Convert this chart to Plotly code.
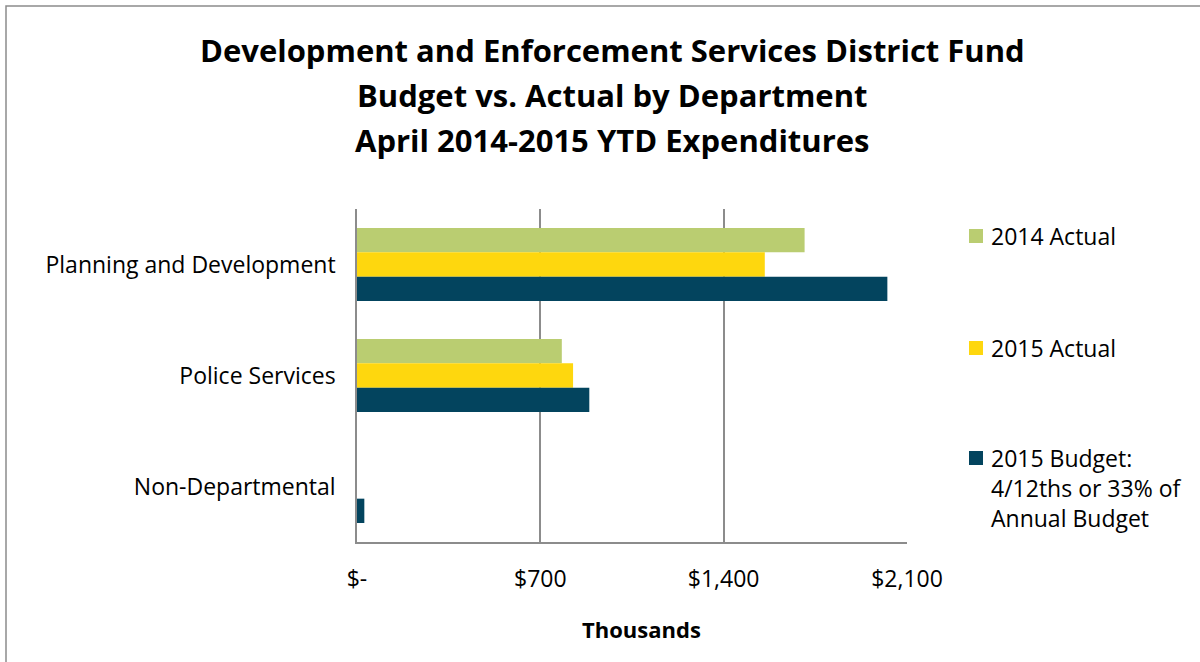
import plotly.graph_objects as go

# Departments, top to bottom
departments = ["Planning and Development", "Police Services", "Non-Departmental"]

# YTD expenditures, in thousands of dollars
actual_2014 = [1709, 782, 0]
actual_2015 = [1557, 825, 0]
budget_2015 = [2025, 887, 28]

series_names = ["2014 Actual", "2015 Actual",
                "2015 Budget:<br>4/12ths or 33% of<br>Annual Budget"]
series_colors = ["#BACD71", "#FED70E", "#03445E"]

tick_values = [0, 700, 1400, 2100]
tick_labels = ["$-", "$700", "$1,400", "$2,100"]

title_lines = ["Development and Enforcement Services District Fund",
               "Budget vs. Actual by Department",
               "April 2014-2015 YTD Expenditures"]

W, H = 1200, 662
PL, PR, PT, PB = 357, 907, 209, 542  # plot area in pixels

def px_x(px):
    return (px - PL) / (PR - PL)

def px_y(py):
    return (PB - py) / (PB - PT)

FONT = "Open Sans"
GRID = "#8C8C8C"
BODY = 23

fig = go.Figure()
for name, vals, col in zip(series_names, [actual_2014, actual_2015, budget_2015], series_colors):
    fig.add_trace(go.Bar(
        y=departments, x=vals, orientation="h", name=name,
        marker=dict(color=col, line=dict(width=0)),
        showlegend=False,
    ))

fig.update_layout(
    width=W, height=H,
    margin=dict(l=PL, r=W - PR, t=PT, b=H - PB, autoexpand=False),
    paper_bgcolor="white", plot_bgcolor="white",
    barmode="group", bargap=0.342, bargroupgap=0,
    font=dict(family=FONT, size=BODY, color="#000000"),
    xaxis=dict(
        range=[0, 2100], tickvals=tick_values, ticktext=tick_labels,
        showgrid=True, gridcolor=GRID, gridwidth=1.5,
        showline=True, linecolor=GRID, linewidth=1.5, mirror=False,
        zeroline=False, ticks="", ticklabelstandoff=16,
        tickfont=dict(family=FONT, size=BODY, color="#000000"),
    ),
    yaxis=dict(
        autorange="reversed", showgrid=False,
        showline=True, linecolor=GRID, linewidth=1.5,
        ticks="", ticklabelstandoff=15,
        tickfont=dict(family=FONT, size=BODY, color="#000000"),
    ),
)

annotations = []
# Title
for i, line in enumerate(title_lines):
    annotations.append(dict(
        text=f"<b>{line}</b>", xref="paper", yref="paper",
        x=px_x(612), y=px_y(50 + i * 45), xanchor="center", yanchor="middle",
        showarrow=False, font=dict(family=FONT, size=31, color="#000000"),
    ))
# Axis title
annotations.append(dict(
    text="<b>Thousands</b>", xref="paper", yref="paper",
    x=px_x(641), y=px_y(629), xanchor="center", yanchor="middle",
    showarrow=False, font=dict(family=FONT, size=22, color="#000000"),
))

# Legend entries
shapes = []
legend_rows = [236, 348, 458]
for name, col, cy in zip(series_names, series_colors, legend_rows):
    shapes.append(dict(
        type="rect", xref="paper", yref="paper",
        x0=px_x(969), x1=px_x(983), y0=px_y(cy + 7), y1=px_y(cy - 7),
        fillcolor=col, line=dict(width=0),
    ))
    annotations.append(dict(
        text=name, xref="paper", yref="paper",
        x=px_x(989), y=px_y(cy - 18), xanchor="left", yanchor="top",
        align="left", showarrow=False,
        font=dict(family=FONT, size=BODY, color="#000000"),
    ))

# Chart border
shapes.append(dict(
    type="rect", xref="paper", yref="paper",
    x0=px_x(6), x1=px_x(1210), y0=px_y(680), y1=px_y(6),
    line=dict(color="#8C8C8C", width=1.5), fillcolor="rgba(0,0,0,0)",
    layer="below",
))

fig.update_layout(annotations=annotations, shapes=shapes)
fig.write_html("out.html")
